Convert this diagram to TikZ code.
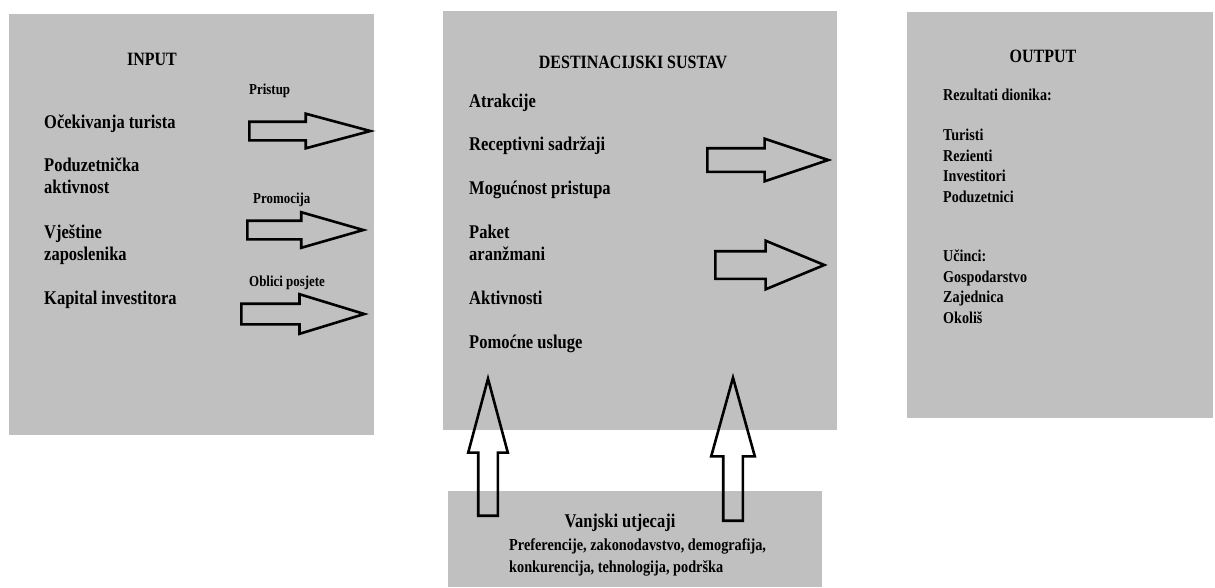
\documentclass[tikz,border=0pt]{standalone}
\usepackage{fontspec}
\setmainfont{Liberation Serif}[FakeStretch=0.85]
\usetikzlibrary{shapes.arrows}
\definecolor{panelgray}{RGB}{192,192,192}
\tikzset{
  panel/.style={fill=panelgray, draw=none, inner sep=0pt, anchor=north west},
  head/.style={anchor=base, inner sep=0pt, font=\bfseries\fontsize{18.8}{20}\selectfont},
  item/.style={anchor=base west, inner sep=0pt, align=left, font=\bfseries\fontsize{19.4}{21.5}\selectfont},
  small/.style={anchor=base west, inner sep=0pt, align=left, font=\bfseries\fontsize{16.6}{20.4}\selectfont},
  tag/.style={anchor=base west, inner sep=0pt, font=\bfseries\fontsize{15.2}{16}\selectfont},
  blockarrow/.style={single arrow, draw=black, line width=2.6pt, anchor=tail,
    single arrow head indent=0pt, minimum width=0pt}
}
\begin{document}
\begin{tikzpicture}[x=1pt, y=-1pt]
  \useasboundingbox (0,0) rectangle (1215,587);
  % panels
  \node[panel, minimum width=365pt, minimum height=421pt] (input) at (9,14) {};
  \node[panel, minimum width=394pt, minimum height=419pt] (dest) at (443,11) {};
  \node[panel, minimum width=306pt, minimum height=406pt] (output) at (907,12) {};
  \node[panel, minimum width=374pt, minimum height=96pt] (ext) at (448,491) {};

  % INPUT (multi-line nodes sit on their last baseline)
  \node[head] (inhead) at (152,65) {INPUT};
  \node[item] (in1) at (44,128) {Očekivanja turista};
  \node[item] (in2) at (44,193) {Poduzetnička\\aktivnost};
  \node[item] (in3) at (44,260) {Vještine\\zaposlenika};
  \node[item] (in4) at (44,304) {Kapital investitora};
  \node[tag] (t1) at (249,94) {Pristup};
  \node[tag] (t2) at (253,203) {Promocija};
  \node[tag] (t3) at (249,286) {Oblici posjete};

  % DESTINACIJSKI SUSTAV
  \node[head] (dhead) at (633,68) {DESTINACIJSKI SUSTAV};
  \node[item] (d1) at (469,107) {Atrakcije};
  \node[item] (d2) at (469,150) {Receptivni sadržaji};
  \node[item] (d3) at (469,194) {Mogućnost pristupa};
  \node[item] (d4) at (469,260) {Paket\\aranžmani};
  \node[item] (d5) at (469,304) {Aktivnosti};
  \node[item] (d6) at (469,348) {Pomoćne usluge};

  % OUTPUT
  \node[head] (ohead) at (1043,62) {OUTPUT};
  \node[small] (o1) at (943,100) {Rezultati dionika:};
  \node[small] (o2) at (943,202) {Turisti\\Rezienti\\Investitori\\Poduzetnici};
  \node[small] (o3) at (943,323) {Učinci:\\Gospodarstvo\\Zajednica\\Okoliš};

  % vanjski utjecaji
  \node[head, font=\bfseries\fontsize{19.4}{20}\selectfont] (ehead) at (620,527) {Vanjski utjecaji};
  \node[small, font=\bfseries\fontsize{16.8}{22}\selectfont] (e1) at (509,572)
    {Preferencije, zakonodavstvo, demografija,\\konkurencija, tehnologija, podrška};

  % arrows
  \node[blockarrow, minimum height=121pt, inner xsep=0pt, inner ysep=8pt,
    single arrow head extend=8pt, single arrow tip angle=30] (a1) at (248,131) {};
  \node[blockarrow, minimum height=116pt, inner xsep=0pt, inner ysep=8pt,
    single arrow head extend=8.5pt, single arrow tip angle=32] (a2) at (246,230) {};
  \node[blockarrow, minimum height=123pt, inner xsep=0pt, inner ysep=9pt,
    single arrow head extend=9.5pt, single arrow tip angle=34] (a3) at (240,314) {};
  \node[blockarrow, minimum height=121pt, inner xsep=0pt, inner ysep=10.5pt,
    single arrow head extend=9.5pt, single arrow tip angle=37] (a4) at (706,160) {};
  \node[blockarrow, minimum height=109pt, inner xsep=0pt, inner ysep=12.5pt,
    single arrow head extend=10.5pt, single arrow tip angle=45] (a5) at (714,265) {};
  \node[blockarrow, minimum height=137pt, inner xsep=8.5pt, inner ysep=0pt,
    single arrow head extend=10pt, single arrow tip angle=30, shape border rotate=90] (a6) at (488,517) {};
  \node[blockarrow, minimum height=143pt, inner xsep=8.5pt, inner ysep=0pt,
    single arrow head extend=12pt, single arrow tip angle=31, shape border rotate=90] (a7) at (733,522) {};
\end{tikzpicture}
\end{document}
